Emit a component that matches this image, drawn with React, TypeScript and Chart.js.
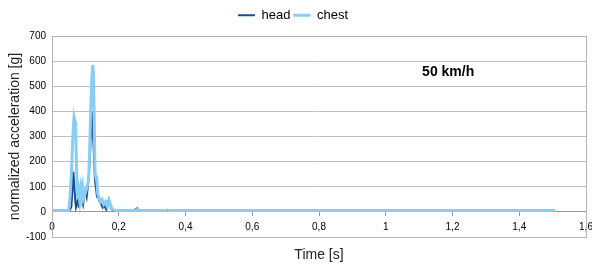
import React, { useEffect, useRef } from "react";
import { Chart, registerables } from "chart.js";

Chart.register(...registerables);

// Time [s] and normalized acceleration [g]
const headTime = [0, 0.052, 0.058, 0.061, 0.064, 0.067, 0.07, 0.072, 0.075, 0.078, 0.081, 0.084, 0.087, 0.09, 0.093, 0.096, 0.1, 0.104, 0.107, 0.11, 0.114, 0.117, 0.119, 0.121, 0.123, 0.125, 0.128, 0.131, 0.135, 0.139, 0.143, 0.147, 0.152, 0.157, 0.162, 0.166, 0.17, 0.174, 0.178, 0.185, 0.245, 0.25, 0.255, 0.26, 0.34, 0.345, 0.35, 1.507];
const headG = [3, 3, 20, 80, 160, 100, 40, 17, 30, 57, 17, 70, 92, 44, 28, 57, 84, 60, 97, 137, 230, 330, 400, 380, 300, 250, 140, 100, 60, 57, 40, 30, 17, 25, 10, 30, 48, 30, 12, 4, 4, 10, 14, 4, 4, 8, 3, 3];

const chestTime = [0, 0.05, 0.054, 0.058, 0.061, 0.064, 0.066, 0.069, 0.071, 0.073, 0.075, 0.077, 0.08, 0.083, 0.086, 0.089, 0.092, 0.095, 0.099, 0.103, 0.107, 0.11, 0.113, 0.116, 0.119, 0.122, 0.124, 0.126, 0.129, 0.131, 0.134, 0.137, 0.141, 0.145, 0.15, 0.155, 0.16, 0.166, 0.171, 0.176, 0.181, 0.19, 0.25, 0.255, 0.26, 0.34, 0.345, 0.35, 1.507];
const chestG = [5, 5, 57, 150, 250, 340, 377, 360, 355, 200, 120, 50, 80, 45, 90, 60, 95, 55, 70, 90, 110, 140, 250, 404, 520, 584, 560, 404, 152, 140, 137, 71, 55, 40, 50, 30, 40, 20, 45, 25, 10, 5, 5, 9, 5, 5, 7, 5, 5];

const seriesNames = ["head", "chest"];
const seriesColors = ["#1B4F8C", "#87CDF6"];
const yTicks = { min: -100, max: 700, step: 100 };
const xTicks = { min: 0, max: 1.6, step: 0.2 };
const annotationText = "50 km/h";
const annotationAt = { x: 1.187, y: 556 };
const xTitle = "Time [s]";
const yTitle = "normalized acceleration [g]";

const FONT = "'Liberation Sans', Arial, sans-serif";

export default function App() {
  const ref = useRef<HTMLCanvasElement | null>(null);

  useEffect(() => {
    if (!ref.current) return;
    const extras = {
      id: "extras",
      afterDraw(chart: any) {
        const { ctx, chartArea } = chart;
        const xs = chart.scales.x;
        const ys = chart.scales.y;
        ctx.save();
        ctx.strokeStyle = "#b4b4b4";
        ctx.lineWidth = 1;
        ctx.strokeRect(
          Math.round(chartArea.left) + 0.5,
          Math.round(chartArea.top) + 0.5,
          Math.round(chartArea.right - chartArea.left),
          Math.round(chartArea.bottom - chartArea.top)
        );
        ctx.fillStyle = "#000";
        ctx.font = `bold 14px ${FONT}`;
        ctx.textAlign = "center";
        ctx.textBaseline = "middle";
        ctx.fillText(annotationText, xs.getPixelForValue(annotationAt.x), ys.getPixelForValue(annotationAt.y));
        ctx.fillStyle = "#222";
        ctx.font = `14px ${FONT}`;
        ctx.fillText(xTitle, (chartArea.left + chartArea.right) / 2, chartArea.bottom + 18);
        ctx.restore();
      },
    };

    const chart = new Chart(ref.current, {
      type: "line",
      data: {
        datasets: [
          {
            label: seriesNames[0],
            data: headTime.map((t, i) => ({ x: t, y: headG[i] })),
            borderColor: seriesColors[0],
            backgroundColor: seriesColors[0],
            borderWidth: 2,
            pointRadius: 0,
            tension: 0,
            order: 1,
          },
          {
            label: seriesNames[1],
            data: chestTime.map((t, i) => ({ x: t, y: chestG[i] })),
            borderColor: seriesColors[1],
            backgroundColor: seriesColors[1],
            borderWidth: 3,
            pointRadius: 0,
            tension: 0,
            order: 0,
          },
        ],
      },
      options: {
        animation: false,
        responsive: false,
        maintainAspectRatio: false,
        layout: { padding: { left: 0, right: 6, top: 0, bottom: 33 } },
        plugins: {
          legend: {
            position: "top",
            labels: {
              usePointStyle: true,
              pointStyle: "line",
              pointStyleWidth: 17,
              boxWidth: 17,
              boxHeight: 13,
              padding: 3,
              color: "#000",
              font: { family: FONT, size: 13 },
              sort: (a: any, b: any) => a.datasetIndex - b.datasetIndex,
            },
          },
          title: {
            display: true,
            text: "",
            position: "top",
            weight: 500,
            font: { size: 1 },
            padding: { top: 0, bottom: 3 },
          },
          tooltip: { enabled: false },
        },
        scales: {
          x: {
            type: "linear",
            position: { y: 0 } as any,
            min: xTicks.min,
            max: xTicks.max,
            grid: { drawOnChartArea: false, drawTicks: true, tickLength: 4, color: "#999" },
            border: { display: true, color: "#999" },
            ticks: {
              stepSize: xTicks.step,
              padding: 5,
              color: "#000",
              font: { family: FONT, size: 10 },
              maxRotation: 0,
              callback: (v: any) => String(Number(Number(v).toFixed(1))).replace(".", ","),
            },
            afterFit: (scale: any) => {
              scale.paddingLeft = 0;
              scale.paddingRight = 0;
            },
          },
          y: {
            min: yTicks.min,
            max: yTicks.max,
            grid: { color: "#c0c0c0", drawTicks: false },
            border: { display: true, color: "#b4b4b4" },
            ticks: {
              stepSize: yTicks.step,
              padding: 6,
              color: "#000",
              font: { family: FONT, size: 10 },
            },
            title: {
              display: true,
              text: yTitle,
              color: "#222",
              font: { family: FONT, size: 14 },
              padding: { top: 7, bottom: 0 },
            },
            afterFit: (scale: any) => {
              scale.width = 52;
              scale.paddingTop = 36;
            },
          },
        },
      },
      plugins: [extras],
    });
    return () => chart.destroy();
  }, []);

  return (
    <div style={{ position: "fixed", left: 0, top: 0, width: 592, height: 270 }}>
      <canvas ref={ref} width={592} height={270} style={{ width: 592, height: 270 }} />
    </div>
  );
}
